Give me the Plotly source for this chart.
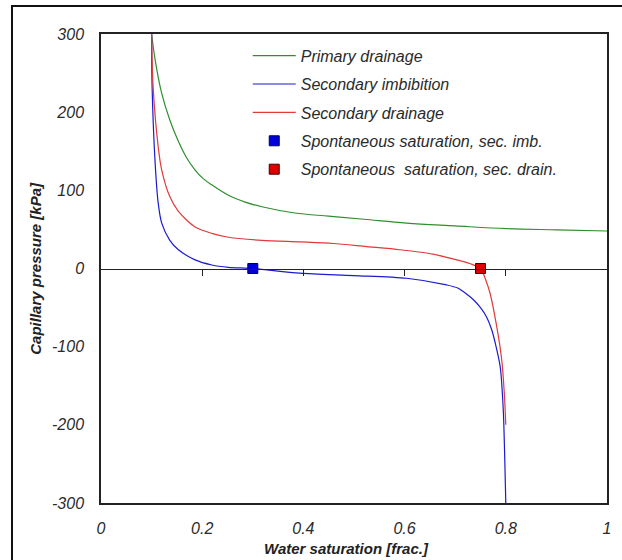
import plotly.graph_objects as go

# ---- data ----
sw_pd = [0.100, 0.107, 0.120, 0.136, 0.152, 0.168, 0.186, 0.202, 0.219, 0.251, 0.285, 0.318, 0.383,
         0.450, 0.520, 0.604, 0.700, 0.802, 0.900, 1.000]
pc_pd = [300, 267, 224, 190, 164, 143, 126, 115, 107, 94, 85, 79, 71,
         67, 63, 58, 54.5, 51, 49.5, 48]

sw_si = [0.100, 0.101, 0.107, 0.113, 0.120, 0.136, 0.153, 0.186, 0.219, 0.252,
         0.300, 0.393, 0.500, 0.604, 0.683, 0.705, 0.723, 0.736, 0.750, 0.762, 0.772, 0.779, 0.789,
         0.795, 0.798, 0.800]
pc_si = [300, 232, 135, 84, 58, 36, 24, 11, 4.5, 1.5,
         0, -6, -9, -12.5, -21, -25, -33, -40, -50, -62, -78, -95, -126,
         -181, -245, -300]

sw_sd = [0.100, 0.103, 0.113, 0.120, 0.136, 0.153, 0.186, 0.219, 0.252, 0.318,
         0.393, 0.459, 0.525, 0.591, 0.656, 0.703, 0.730, 0.750, 0.760, 0.769,
         0.782, 0.792, 0.797, 0.800]
pc_sd = [300, 232, 156, 126, 92, 73, 53, 45, 40, 36,
         34, 32, 28, 24, 18.5, 11, 6, 0, -14, -32,
         -74, -117, -159, -200]

sw_spont_imb = [0.30]
pc_spont_imb = [0]
sw_spont_drn = [0.75]
pc_spont_drn = [0]

x_tickvals = [0, 0.2, 0.4, 0.6, 0.8, 1]
x_ticktext = ["0", "0.2", "0.4", "0.6", "0.8", "1"]
y_tickvals = [300, 200, 100, 0, -100, -200, -300]
y_ticktext = ["300", "200", "100", "0", "-100", "-200", "-300"]
zero_ticks = [0.2, 0.4, 0.6, 0.8]

names = ["Primary drainage", "Secondary imbibition", "Secondary drainage",
         "Spontaneous saturation, sec. imb.", "Spontaneous  saturation, sec. drain."]

GREEN = "#2f8f2f"
BLUE = "#1a1ad0"
RED = "#e03a3a"
TXT = "#2a2a2a"
FONT = "Liberation Sans, Arial, sans-serif"

fig = go.Figure()
fig.add_trace(go.Scatter(x=sw_pd, y=pc_pd, mode="lines", name=names[0],
                         line=dict(color=GREEN, width=1.2, shape="spline", smoothing=1.0),
                         legendgroup="a"))
fig.add_trace(go.Scatter(x=sw_si, y=pc_si, mode="lines", name=names[1],
                         line=dict(color=BLUE, width=1.2, shape="spline", smoothing=0.8),
                         legendgroup="b"))
fig.add_trace(go.Scatter(x=sw_sd, y=pc_sd, mode="lines", name=names[2],
                         line=dict(color=RED, width=1.2, shape="spline", smoothing=0.8),
                         legendgroup="c"))
fig.add_trace(go.Scatter(x=sw_spont_imb, y=pc_spont_imb, mode="markers", name=names[3],
                         marker=dict(symbol="square", size=10, color="#0000dd",
                                     line=dict(color="#000050", width=1)),
                         legendgroup="d"))
fig.add_trace(go.Scatter(x=sw_spont_drn, y=pc_spont_drn, mode="markers", name=names[4],
                         marker=dict(symbol="square", size=10, color="#dd0000",
                                     line=dict(color="#400000", width=1)),
                         legendgroup="e"))
# invisible trace so the zero-line axis is drawn
fig.add_trace(go.Scatter(x=[0.5], y=[0], xaxis="x2", mode="markers",
                         marker=dict(opacity=0), showlegend=False, hoverinfo="skip"))

fig.update_layout(
    width=622, height=560,
    margin=dict(l=101, r=15, t=34, b=57),
    paper_bgcolor="white", plot_bgcolor="white",
    font=dict(family=FONT, size=16, color=TXT, style="italic"),
    showlegend=True,
    legend=dict(x=0.29, y=0.99, xanchor="left", yanchor="top",
                bgcolor="rgba(0,0,0,0)", borderwidth=0,
                font=dict(family=FONT, size=16, color=TXT, style="italic"),
                itemwidth=43, tracegroupgap=4.6, traceorder="grouped"),
    xaxis=dict(range=[0, 1], tickvals=x_tickvals, ticktext=x_ticktext,
               showline=True, linecolor="#222", linewidth=1.5, mirror=True,
               showgrid=False, zeroline=False, ticks="", ticklabelstandoff=10,
               tickfont=dict(family=FONT, size=16, color=TXT, style="italic")),
    xaxis2=dict(range=[0, 1], overlaying="x", anchor="free", position=0.5, side="bottom",
                tickvals=zero_ticks, showticklabels=False, ticks="outside", ticklen=6,
                tickcolor="#222", tickwidth=1.3,
                showline=True, linecolor="#222", linewidth=1.3,
                showgrid=False, zeroline=False),
    yaxis=dict(range=[-300, 300], tickvals=y_tickvals, ticktext=y_ticktext,
               showline=True, linecolor="#222", linewidth=1.5, mirror=True,
               showgrid=False, zeroline=False, ticks="", ticklabelstandoff=12,
               tickfont=dict(family=FONT, size=16, color=TXT, style="italic")),
    annotations=[
        dict(text="Water saturation [frac.]", xref="paper", yref="paper",
             x=0.486, y=-0.096, xanchor="center", yanchor="middle", showarrow=False,
             font=dict(family=FONT, size=15, color="#222", style="italic", weight="bold")),
        dict(text="Capillary pressure [kPa]", xref="paper", yref="paper",
             x=-0.130, y=0.5, xanchor="center", yanchor="middle", showarrow=False,
             textangle=-90,
             font=dict(family=FONT, size=15, color="#222", style="italic", weight="bold")),
    ],
    shapes=[
        dict(type="rect", xref="paper", yref="paper",
             x0=-0.1759, y0=-0.3, x1=1.2, y1=1.0597,
             line=dict(color="#111", width=2), fillcolor="rgba(0,0,0,0)", layer="below"),
    ],
)

fig.write_html("out.html")
